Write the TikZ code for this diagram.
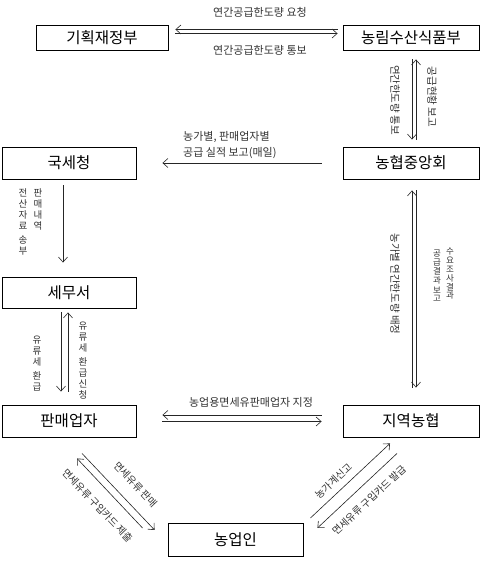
\documentclass[tikz,border=0pt]{standalone}
\usepackage{fontspec}
\setmainfont{Noto Sans CJK KR}
\usetikzlibrary{arrows.meta}
\begin{document}
\begin{tikzpicture}[x=1pt,y=1pt,
  box/.style={draw=black, line width=0.9pt, minimum width=134pt, minimum height=32pt, inner sep=0pt, font=\fontsize{15.5}{18}\selectfont},
  conn/.style={draw=black!85, line width=0.6pt},
  tip/.style={-{Straight Barb[length=5pt,width=9pt]}},
  lbl/.style={inner sep=0pt, text=black!80, font=\fontsize{11}{13}\selectfont},
  rlbl/.style={inner sep=0pt, text=black!80, font=\fontsize{10.5}{12}\selectfont},
  dlbl/.style={inner sep=0pt, text=black!80, font=\fontsize{10}{12}\selectfont},
  vlbl/.style={inner sep=0pt, text=black!80, align=center, anchor=north, font=\fontsize{9.5}{11}\selectfont},
  svlbl/.style={inner sep=0pt, text=black!80, align=center, anchor=north, font=\fontsize{8.5}{8.8}\selectfont}
]
\useasboundingbox (0,0) rectangle (480,562);
\fill[white] (0,0) rectangle (480,562);

% boxes
\node[box, minimum width=132pt, minimum height=25pt] (gihoek) at (102,524.5) {기획재정부};
\node[box, minimum width=136pt, minimum height=25pt] (nongrim) at (411,524.5) {농림수산식품부};
\node[box] (guksecheong) at (69,399) {국세청};
\node[box, minimum width=136pt] (nhcentral) at (411,399) {농협중앙회};
\node[box, minimum height=31pt] (semuseo) at (69,269.5) {세무서};
\node[box] (panmae) at (69,141) {판매업자};
\node[box, minimum width=136pt] (jiyeok) at (411,141) {지역농협};
\node[box, minimum width=135pt, minimum height=33pt] (nongeobin) at (235.5,22.5) {농업인};

% top pair
\draw[conn,tip,shorten <=5pt,shorten >=7pt] ([yshift=8pt]nongrim.west) -- ([yshift=8pt]gihoek.east);
\draw[conn,tip,shorten <=7pt,shorten >=5pt] ([yshift=4pt]gihoek.east) -- ([yshift=4pt]nongrim.west);
\node[lbl] (t1) at (260,550) {연간공급한도량 요청};
\node[lbl] (t2) at (260,512) {연간공급한도량 통보};

% nongrim <-> nhcentral
\draw[conn,tip,shorten <=9pt,shorten >=7pt] ([xshift=1pt]nongrim.south) -- ([xshift=1pt]nhcentral.north);
\draw[conn,tip,shorten <=7pt,shorten >=9pt] ([xshift=5pt]nhcentral.north) -- ([xshift=5pt]nongrim.south);
\node[rlbl, rotate=-90] (t3) at (395,462) {연간한도량 통보};
\node[rlbl, rotate=-90] (t4) at (432,465) {공급현황 보고};

% nhcentral -> guksecheong
\draw[conn,tip,shorten <=21pt,shorten >=26pt] (nhcentral.west) -- (guksecheong.east);
\node[lbl, align=left, anchor=west, font=\fontsize{11}{16}\selectfont] (t5) at (183,417) {농가별, 판매업자별\\공급 실적 보고(매일)};

% guksecheong -> semuseo
\draw[conn,tip,shorten <=6pt,shorten >=14pt] ([xshift=-6pt]guksecheong.south) -- ([xshift=-6pt]semuseo.north);
\node[vlbl] (t6) at (38,374) {판\\매\\내\\역};
\node[vlbl] (t7) at (23,374) {전\\산\\자\\료\\[3pt]송\\부};

% semuseo <-> panmae
\draw[conn,tip,shorten <=4pt,shorten >=13pt] ([xshift=-8pt]semuseo.south) -- ([xshift=-8pt]panmae.north);
\draw[conn,tip,shorten <=13pt,shorten >=4pt] ([xshift=-1pt]panmae.north) -- ([xshift=-1pt]semuseo.south);
\node[vlbl] (t8) at (37,226) {유\\류\\세\\[3pt]환\\급};
\node[vlbl] (t9) at (83,240) {유\\류\\세\\[3pt]환\\급\\신\\청};

% nhcentral <-> jiyeok
\draw[conn,tip,shorten <=17pt,shorten >=11pt] ([xshift=1pt]jiyeok.north) -- ([xshift=1pt]nhcentral.south);
\draw[conn,tip,shorten <=11pt,shorten >=17pt] ([xshift=5pt]nhcentral.south) -- ([xshift=5pt]jiyeok.north);
\node[rlbl, rotate=-90] (t10) at (395,278) {농가별 연간한도량 배정};
\node[svlbl] (t11) at (450,314) {수\\요\\조\\사\\결\\과};
\node[svlbl] (t12) at (437,312) {공\\급\\결\\과\\[1pt]보\\고};

% panmae <-> jiyeok
\draw[conn,tip,shorten <=21pt,shorten >=26pt] ([yshift=6pt]jiyeok.west) -- ([yshift=6pt]panmae.east);
\draw[conn,tip,shorten <=26pt,shorten >=21pt] ([yshift=-0.5pt]panmae.east) -- ([yshift=-0.5pt]jiyeok.west);
\node[lbl] (t13) at (251,160) {농업용면세유판매업자 지정};

% panmae <-> nongeobin
\draw[conn,tip] ([shift={(13pt,-16pt)}]panmae.south) -- ([shift={(-13pt,9.5pt)}]nongeobin.west);
\draw[conn,tip] ([shift={(-25pt,11.5pt)}]nongeobin.west) -- ([shift={(8pt,-21pt)}]panmae.south);
\node[dlbl, rotate=-46.5] (t14) at (135.5,77.5) {면세유류 판매};
\node[dlbl, rotate=-46.5] (t15) at (97.5,56.5) {면세유류 구입카드 제출};

% nongeobin <-> jiyeok
\draw[conn,tip] ([shift={(7pt,21.5pt)}]nongeobin.east) -- ([shift={(-21pt,-6pt)}]jiyeok.south);
\draw[conn,tip] ([shift={(-14pt,-16pt)}]jiyeok.south) -- ([shift={(14pt,11.5pt)}]nongeobin.east);
\node[dlbl, rotate=43] (t16) at (333.5,81) {농가계신고};
\node[dlbl, rotate=43] (t17) at (369,62) {면세유류 구입카드 발급};
\end{tikzpicture}
\end{document}
